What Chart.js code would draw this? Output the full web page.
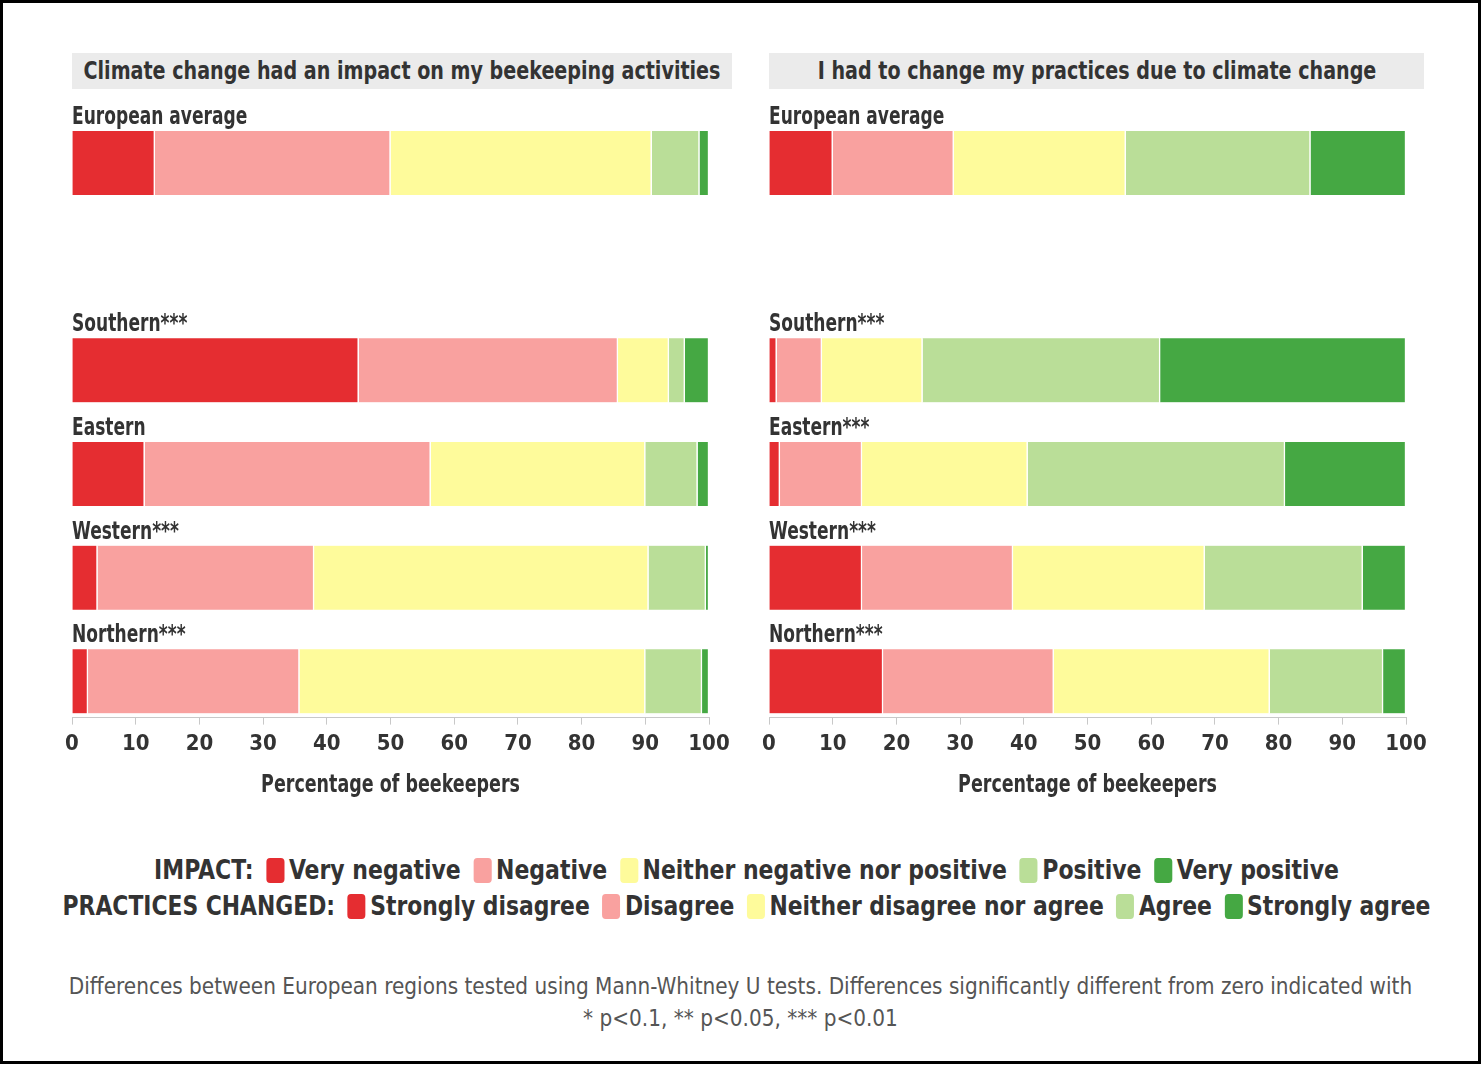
<!DOCTYPE html>
<html>
<head>
<meta charset="utf-8">
<script src="https://cdn.jsdelivr.net/npm/chart.js@4"></script>
<style>
  body { margin: 0; background: #fff; color: #333; font-family: 'DejaVu Sans Condensed', 'DejaVu Sans', sans-serif; }
  #frame { position: absolute; left: 0; top: 0; width: 1481px; height: 1064px; border: 3px solid #000; box-sizing: border-box; }
  .strip { position: absolute; top: 53px; height: 36px; background: #ebebeb; font-weight: bold; font-size: 25px; line-height: 36px; white-space: nowrap; }
  .strip span { position: absolute; left: 50%; top: 0; transform: translateX(-50%) scaleX(0.85); }
  canvas.plot { position: absolute; top: 95px; }
  #legend { position: absolute; left: 6px; top: 852px; width: 1481px; font-size: 27px; font-weight: bold; line-height: 36px; white-space: nowrap; }
  #legend div { display: flex; justify-content: center; align-items: center; }
  .key { flex: none; width: 20px; height: 25px; border-radius: 4px; margin: 0 5px 0 14px; }
  #note { position: absolute; left: 0; top: 970px; width: 1481px; font-size: 23px; line-height: 32px; color: #555; white-space: nowrap; }
  #note div { display: flex; justify-content: center; transform: scaleX(0.97); }
</style>
</head>
<body>
<div id="frame"></div>
<div class="strip" style="left:72px;width:660px"><span>Climate change had an impact on my beekeeping activities</span></div>
<div class="strip" style="left:769px;width:655px"><span>I had to change my practices due to climate change</span></div>
<canvas id="impact" class="plot" style="left:32px" width="720" height="720"></canvas>
<canvas id="practices" class="plot" style="left:729px" width="720" height="720"></canvas>
<div id="legend"></div>
<div id="note">
  <div>Differences between European regions tested using Mann-Whitney U tests. Differences significantly different from zero indicated with</div>
  <div>* p&lt;0.1, ** p&lt;0.05, *** p&lt;0.01</div>
</div>

<script>
const FONT = "'DejaVu Sans Condensed', 'DejaVu Sans', sans-serif";

// rows top to bottom; the empty string is a spacer row below the average
const impactRows = ['European average', '', 'Southern***', 'Eastern', 'Western***', 'Northern***'];
const practiceRows = ['European average', '', 'Southern***', 'Eastern***', 'Western***', 'Northern***'];

const impactLevels = ['Very negative', 'Negative', 'Neither negative nor positive', 'Positive', 'Very positive'];
const practiceLevels = ['Strongly disagree', 'Disagree', 'Neither disagree nor agree', 'Agree', 'Strongly agree'];
const levelColors = ['#e52d31', '#f9a19f', '#fefb9b', '#bade98', '#45a843'];

const xTicks = [0, 10, 20, 30, 40, 50, 60, 70, 80, 90, 100];
const xTitle = 'Percentage of beekeepers';

// % of beekeepers per answer, one entry per row (null for the spacer)
const impactVeryNeg = [13, null, 45, 11.4, 4, 2.5];
const impactNeg = [37, null, 40.7, 44.9, 34, 33.2];
const impactNeither = [41, null, 8, 33.7, 52.5, 54.3];
const impactPos = [7.5, null, 2.5, 8.2, 9, 8.9];
const impactVeryPos = [1.5, null, 3.8, 1.8, 0.5, 1.1];

const practStrongDis = [10, null, 1.2, 1.7, 14.6, 17.9];
const practDis = [19, null, 7.1, 12.9, 23.7, 26.8];
const practNeither = [27, null, 15.8, 26.0, 30.1, 33.9];
const practAgree = [29, null, 37.3, 40.4, 24.8, 17.8];
const practStrongAgree = [15, null, 38.6, 19.0, 6.8, 3.6];

// narrow text helper: the condensed look of the original labels
function narrowText(ctx, text, x, y, squeeze) {
    ctx.save();
    ctx.translate(x, y);
    ctx.scale(squeeze, 1);
    ctx.fillText(text, 0, 0);
    ctx.restore();
}

// region name above each bar + the x axis title
const rowLabels = {
    id: 'rowLabels',
    afterDatasetsDraw(chart) {
        const { ctx, chartArea } = chart;
        const y = chart.scales.y;
        const half = chart.getDatasetMeta(0).data[0].height / 2;
        ctx.save();
        ctx.font = 'bold 24px ' + FONT;
        ctx.fillStyle = '#333';
        ctx.textBaseline = 'alphabetic';
        ctx.textAlign = 'left';
        chart.data.labels.forEach((name, i) => {
            if (!name) return;
            narrowText(ctx, name, chartArea.left, y.getPixelForValue(i) - half - 7, 0.79);
        });
        ctx.textAlign = 'center';
        ctx.textBaseline = 'middle';
        narrowText(ctx, xTitle, (chartArea.left + chartArea.right) / 2, chartArea.bottom + 68, 0.81);
        ctx.restore();
    }
};

function makeChart(id, rows, series, levels) {
    return new Chart(document.getElementById(id), {
        type: 'bar',
        data: {
            labels: rows,
            datasets: series.map((vals, k) => ({
                label: levels[k],
                data: vals.map((v, i) => ({ x: v, y: i })).filter(p => p.x != null),
                backgroundColor: levelColors[k],
                borderColor: '#fff',
                borderWidth: { right: 1.5 },
                borderSkipped: false,
                barThickness: 64
            }))
        },
        options: {
            indexAxis: 'y',
            responsive: false,
            animation: false,
            layout: { padding: { left: 40, right: 43, top: 10, bottom: 52 } },
            plugins: {
                legend: { display: false },
                tooltip: { enabled: false }
            },
            scales: {
                x: {
                    type: 'linear',
                    stacked: true,
                    min: 0,
                    max: 100,
                    afterBuildTicks: s => { s.ticks = xTicks.map(v => ({ value: v })); },
                    grid: { drawOnChartArea: false, drawTicks: true, tickLength: 7, color: '#c8c8c8' },
                    border: { display: true, color: '#c8c8c8' },
                    ticks: { color: '#333', padding: 6, font: { family: FONT, size: 22, weight: 'bold' } }
                },
                y: {
                    type: 'linear',
                    stacked: true,
                    reverse: true,
                    offset: false,
                    min: -0.56,
                    max: 5.35,
                    display: false
                }
            }
        },
        plugins: [rowLabels]
    });
}

makeChart('impact', impactRows,
    [impactVeryNeg, impactNeg, impactNeither, impactPos, impactVeryPos], impactLevels);
makeChart('practices', practiceRows,
    [practStrongDis, practDis, practNeither, practAgree, practStrongAgree], practiceLevels);

// two-line legend underneath both panels
function legendLine(title, levels, squeeze) {
    return '<div style="transform:scaleX(' + squeeze + ')">' + title + levels.map((l, k) =>
        '<span class="key" style="background:' + levelColors[k] + '"></span>' + l).join('') + '</div>';
}
document.getElementById('legend').innerHTML =
    legendLine('IMPACT:', impactLevels, 0.905) + legendLine('PRACTICES CHANGED:', practiceLevels, 0.90);
</script>
</body>
</html>
